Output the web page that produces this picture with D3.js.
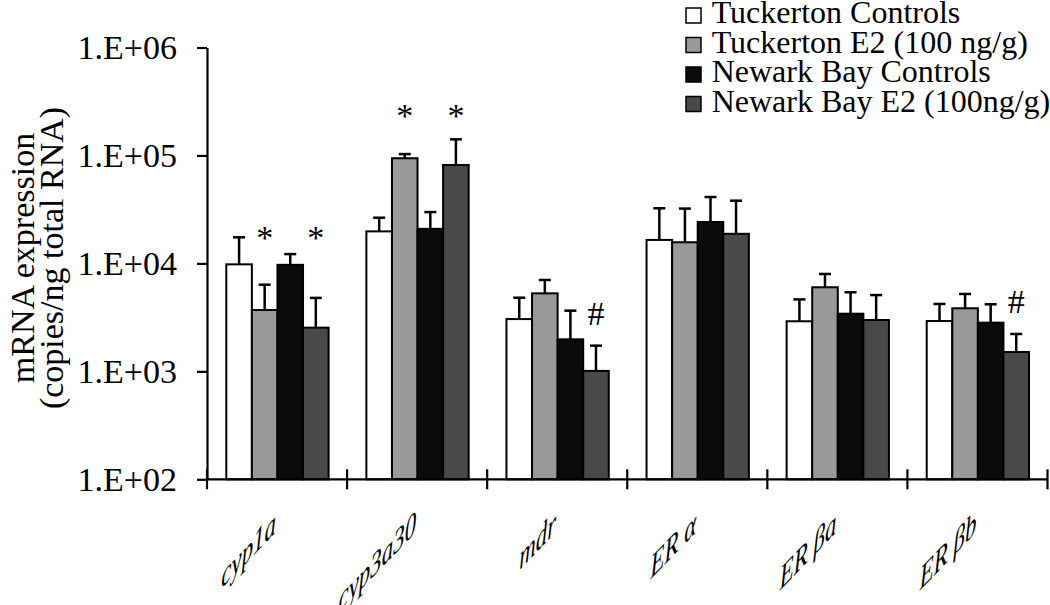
<!DOCTYPE html>
<html>
<head>
<meta charset="utf-8">
<script src="https://cdn.jsdelivr.net/npm/d3@7/dist/d3.min.js"></script>
<style>
  html, body { margin: 0; padding: 0; background: #fff; }
  svg { display: block; }
  text { font-family: "Liberation Serif", "Times New Roman", serif; fill: #000; }
</style>
</head>
<body>
<svg id="chart" width="1050" height="605"></svg>
<script>
// ---- data ----
const categories = ["cyp1a", "cyp3a30", "mdr", "ER \u03b1", "ER \u03b2a", "ER \u03b2b"];
const seriesNames = ["Tuckerton Controls", "Tuckerton E2 (100 ng/g)", "Newark Bay Controls", "Newark Bay E2 (100ng/g)"];
const tuckertonControls = [9800, 19800, 3050, 16500, 2910, 2925];
const tuckertonE2       = [3700, 94200, 5280, 15700, 6010, 3840];
const newarkControls    = [9700, 20900, 1980, 24200, 3420, 2825];
const newarkE2          = [2540, 81600, 1010, 18800, 2990, 1510];
const tuckertonControlsErr = [7650, 6700, 1760, 15900, 1730, 1285];
const tuckertonE2Err       = [2650, 8800, 1740, 16500, 1970, 1370];
const newarkControlsErr    = [2500, 9000, 1670, 17000, 1980, 1355];
const newarkE2Err          = [2250, 59400, 720, 19300, 2100, 710];
const yTickValues = [1e2, 1e3, 1e4, 1e5, 1e6];
const yTickLabels = ["1.E+02", "1.E+03", "1.E+04", "1.E+05", "1.E+06"];
// significance marks: [category index, series index, symbol, level]
const marks = [
  [0, 1, "*", 19200], [0, 3, "*", 19200],
  [1, 1, "*", 258000], [1, 3, "*", 258000],
  [2, 3, "#", 3470],
  [5, 3, "#", 4420]
];
const colors = ["#ffffff", "#999999", "#0b0b0b", "#494949"];

const means = [tuckertonControls, tuckertonE2, newarkControls, newarkE2];
const errs  = [tuckertonControlsErr, tuckertonE2Err, newarkControlsErr, newarkE2Err];

// ---- layout ----
const svg = d3.select("#chart");
const x0 = d3.scaleBand().domain(categories).range([207, 1047.5]).padding(0);
const x1 = d3.scaleBand().domain(d3.range(seriesNames.length)).range([19.3, 121.6]).padding(0);
const y = d3.scaleLog().domain([1e2, 1e6]).range([479.3, 47.5]);

const bars = [];
categories.forEach((c, ci) => {
  seriesNames.forEach((s, si) => {
    bars.push({ c, ci, si, v: means[si][ci], e: errs[si][ci] });
  });
});

// error bars (behind bars)
const eg = svg.append("g");
eg.selectAll("line.v").data(bars).join("line")
  .attr("x1", d => x0(d.c) + x1(d.si) + x1.bandwidth() / 2)
  .attr("x2", d => x0(d.c) + x1(d.si) + x1.bandwidth() / 2)
  .attr("y1", d => y(d.v))
  .attr("y2", d => y(d.v + d.e))
  .attr("stroke", "#000").attr("stroke-width", 2.5);
eg.selectAll("line.cap").data(bars).join("line")
  .attr("x1", d => x0(d.c) + x1(d.si) + x1.bandwidth() / 2 - 6)
  .attr("x2", d => x0(d.c) + x1(d.si) + x1.bandwidth() / 2 + 6)
  .attr("y1", d => y(d.v + d.e))
  .attr("y2", d => y(d.v + d.e))
  .attr("stroke", "#000").attr("stroke-width", 2.5);

// bars
svg.append("g").selectAll("rect").data(bars).join("rect")
  .attr("x", d => x0(d.c) + x1(d.si))
  .attr("y", d => y(d.v))
  .attr("width", x1.bandwidth())
  .attr("height", d => y(1e2) - y(d.v))
  .attr("fill", d => colors[d.si])
  .attr("stroke", "#000").attr("stroke-width", 2);

// y axis
const yAxis = d3.axisLeft(y).tickValues(yTickValues)
  .tickFormat((d, i) => yTickLabels[i]).tickSizeInner(10).tickSizeOuter(0).tickPadding(20);
const yg = svg.append("g").attr("transform", "translate(207,0)").call(yAxis);
yg.select(".domain").attr("stroke", "#000").attr("stroke-width", 2.2);
yg.selectAll(".tick line").attr("stroke", "#000").attr("stroke-width", 2.2);
yg.selectAll(".tick text").style("font-family", '"Liberation Serif", serif').style("font-size", "34px").attr("fill", "#000");

// x axis
const xg = svg.append("g");
xg.append("line").attr("x1", 207).attr("x2", 1047.5).attr("y1", y(1e2)).attr("y2", y(1e2))
  .attr("stroke", "#000").attr("stroke-width", 2.2);
const bounds = categories.map(c => x0(c)).concat([x0.range()[1]]);
xg.selectAll("line.t").data(bounds).join("line")
  .attr("x1", d => d).attr("x2", d => d)
  .attr("y1", y(1e2) - 10).attr("y2", y(1e2) + 10)
  .attr("stroke", "#000").attr("stroke-width", 2.2);
// labels: baseline runs diagonally while glyphs stay upright (sheared)
xg.selectAll("text").data(categories).join("text")
  .attr("transform", c => `translate(${x0(c) + x0.bandwidth() / 2 - 1},532) matrix(0.695,-0.719,0,1,0,0)`)
  .attr("text-anchor", "end")
  .style("font-size", "33px").style("font-style", "italic")
  .text(c => c);

// significance marks
svg.append("g").selectAll("text").data(marks).join("text")
  .attr("x", d => x0(categories[d[0]]) + x1(d[1]) + x1.bandwidth() / 2)
  .attr("y", d => y(d[3]))
  .attr("dy", d => d[2] === "*" ? "0.47em" : "0.34em")
  .attr("text-anchor", "middle")
  .style("font-size", "34px")
  .text(d => d[2]);

// y title
const yt = svg.append("text").attr("transform", "translate(0,258) rotate(-90)")
  .attr("text-anchor", "middle").style("font-size", "34px");
yt.append("tspan").attr("x", 0).attr("y", 34).text("mRNA expression");
yt.append("tspan").attr("x", 0).attr("y", 63).text("(copies/ng total RNA)");

// legend
const lg = svg.append("g");
const rowY = d3.scaleLinear().domain([0, 1]).range([23, 52.5]);
seriesNames.forEach((s, i) => {
  lg.append("rect").attr("x", 686).attr("y", rowY(i) - 15).attr("width", 15).attr("height", 15)
    .attr("fill", colors[i]).attr("stroke", "#000").attr("stroke-width", 1.5);
  lg.append("text").attr("x", 711.7).attr("y", rowY(i)).style("font-size", "32px").text(s);
});
</script>
</body>
</html>
